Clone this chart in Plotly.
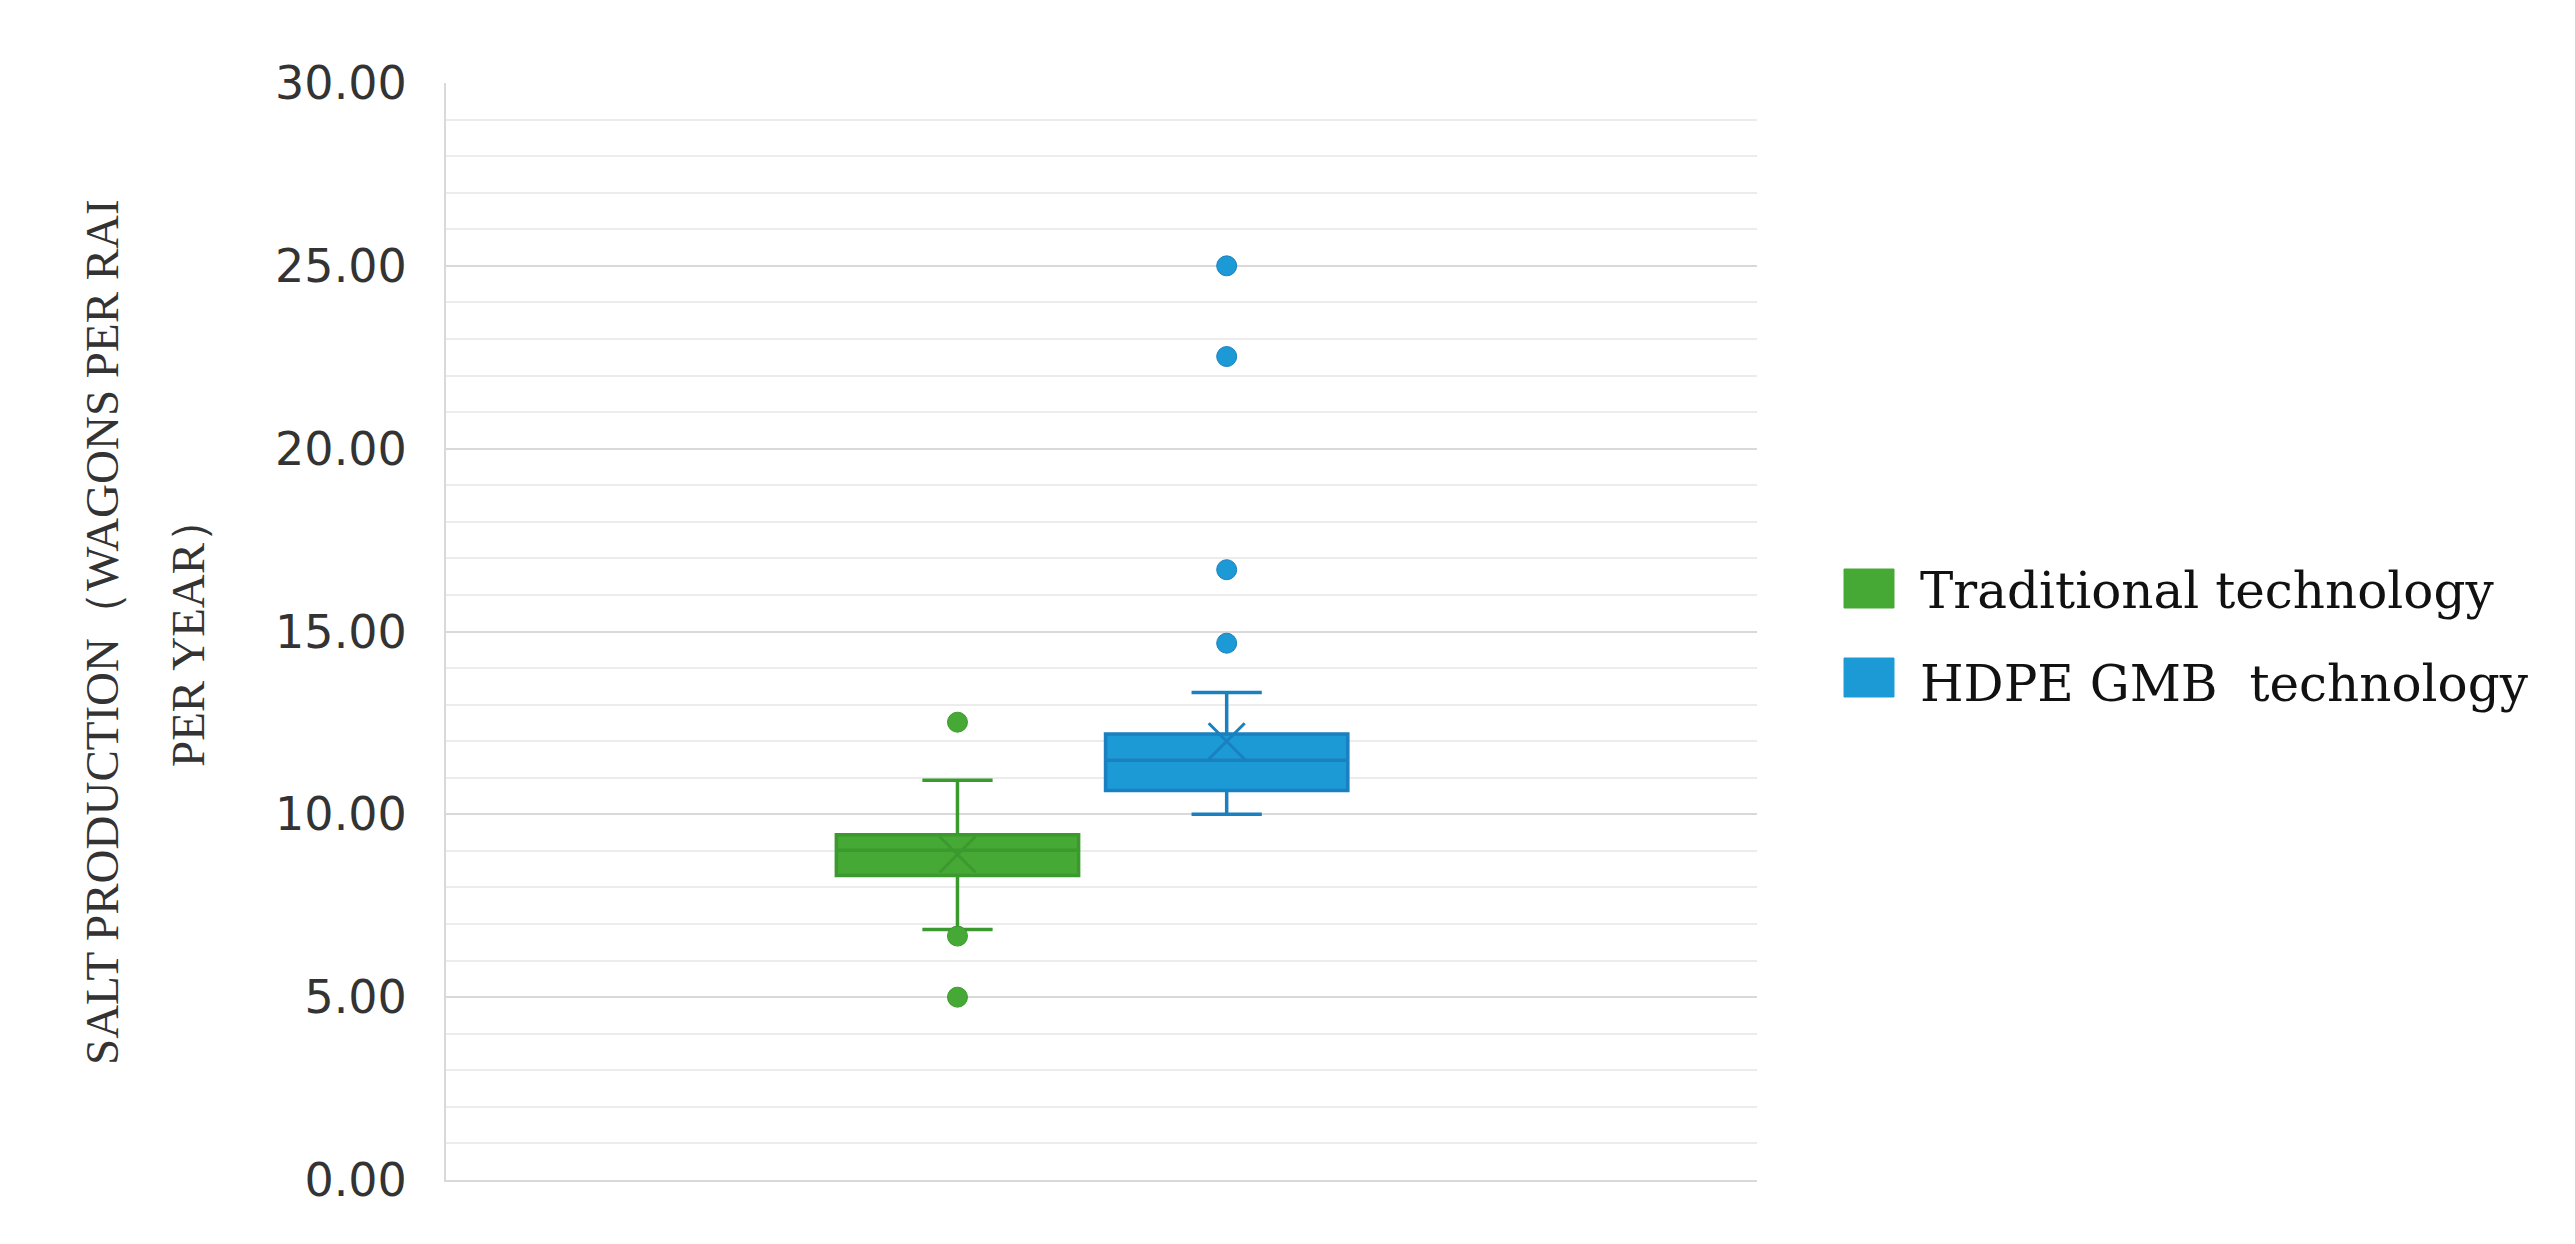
import plotly.graph_objects as go

# ---- data ----
categories = ["Traditional technology", "HDPE GMB  technology"]
q1 = [8.33, 10.65]
median = [9.02, 11.48]
q3 = [9.44, 12.20]
lowerfence = [6.85, 10.00]
upperfence = [10.93, 13.33]
means = [8.90, 12.00]
trad_outliers = [12.52, 6.67, 5.00]
hdpe_outliers = [25.00, 22.52, 16.69, 14.68]
y_ticks = [0, 5, 10, 15, 20, 25, 30]

# ---- style / layout (page pixel targets) ----
fills = ["#46a935", "#1c9ad6"]
lines = ["#3b9a2e", "#1a80c0"]
OFF = 8                      # browser body margin
W, H = 2575 - 2 * OFF, 1244 - 2 * OFF
PL, PR, PT, PB = 446, 1757, 83, 1180   # plot area in page coords
L, T = PL - OFF, PT - OFF
PW, PH = PR - PL, PB - PT
R, B = W - L - PW, H - T - PH


def px(x):
    return (x - PL) / PW


def py(y):
    return (PB - y) / PH


fig = go.Figure()
outliers = [trad_outliers, hdpe_outliers]
for i, cat in enumerate(categories):
    fig.add_trace(go.Box(
        x=[cat], q1=[q1[i]], median=[median[i]], q3=[q3[i]],
        lowerfence=[lowerfence[i]], upperfence=[upperfence[i]],
        name=cat, fillcolor=fills[i], line=dict(color=lines[i], width=3.5),
        width=0.9, whiskerwidth=0.29, boxpoints=False, showlegend=False,
        hoverinfo="skip",
    ))
    fig.add_trace(go.Scatter(
        x=[cat] * len(outliers[i]), y=outliers[i], mode="markers",
        marker=dict(color=fills[i], size=20, line=dict(color=lines[i], width=1)),
        showlegend=False, hoverinfo="skip",
    ))
    fig.add_trace(go.Scatter(
        x=[cat], y=[means[i]], mode="markers",
        marker=dict(symbol="x-thin-open", size=36, color=lines[i],
                    line=dict(color=lines[i], width=3)),
        showlegend=False, hoverinfo="skip",
    ))

# custom legend (large square swatches)
legend_rows = [(569, 608), (658, 697)]
text_centers = [591, 684]
for i, cat in enumerate(categories):
    y0, y1 = legend_rows[i]
    fig.add_shape(type="rect", xref="paper", yref="paper",
                  x0=px(1844), x1=px(1894), y0=py(y1), y1=py(y0),
                  fillcolor=fills[i], line=dict(color=fills[i], width=1))
    fig.add_annotation(xref="paper", yref="paper", x=px(1918), y=py(text_centers[i]),
                       text=cat.replace("  ", "\u00a0 "), showarrow=False,
                       xanchor="left", yanchor="middle",
                       font=dict(family="DejaVu Serif", size=50, color="#111111"))

# y-axis title as two rotated lines
title_lines = ["SALT PRODUCTION（WAGONS PER RAI", "PER YEAR）"]
for xpix, txt in zip([102, 188], title_lines):
    fig.add_annotation(xref="paper", yref="paper", x=px(xpix), y=py(632),
                       text=txt, textangle=-90, showarrow=False,
                       xanchor="center", yanchor="middle",
                       font=dict(family="Liberation Serif", size=47, color="#333333"))

fig.update_layout(
    width=W, height=H,
    margin=dict(l=L, r=R, t=T, b=B, pad=0),
    paper_bgcolor="white", plot_bgcolor="white",
    showlegend=False,
)
fig.update_xaxes(
    type="category", categoryorder="array", categoryarray=categories,
    range=[-1.90, 2.97], showticklabels=False, showgrid=False,
    showline=True, linecolor="#d9d9d9", linewidth=2, zeroline=False, ticks="",
)
fig.update_yaxes(
    range=[0, 30], tickvals=y_ticks, ticktext=[f"{v:.2f}" for v in y_ticks],
    showgrid=True, gridcolor="#d9d9d9", gridwidth=2,
    minor=dict(dtick=1, showgrid=True, gridcolor="#ececec", gridwidth=2),
    showline=True, linecolor="#d9d9d9", linewidth=2, zeroline=False, ticks="",
    ticklabelstandoff=28,
    tickfont=dict(family="DejaVu Sans", size=46, color="#333333"),
)

fig.write_html("out.html")
